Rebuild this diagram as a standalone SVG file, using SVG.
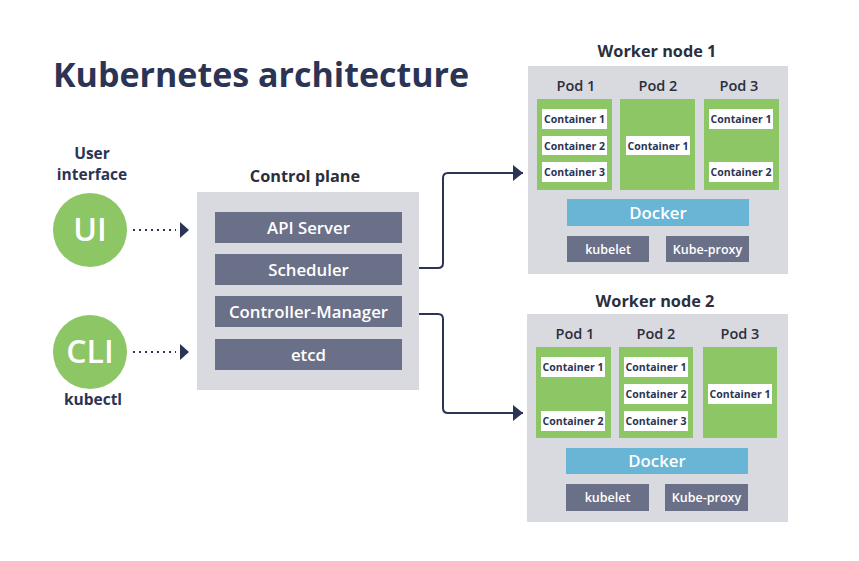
<svg xmlns="http://www.w3.org/2000/svg" width="859" height="561" viewBox="0 0 859 561">
<defs>
<style>
text{font-family:"Open Sans","DejaVu Sans",sans-serif;text-anchor:middle;}
.title{font-size:34px;font-weight:700;fill:#2b3454;text-anchor:start;}
.hd{font-size:16.3px;font-weight:700;fill:#2b2f3c;}
.lbl{font-size:15.5px;font-weight:700;fill:#2b3454;}
.pod{font-size:14.5px;font-weight:600;fill:#2b2f3c;}
.panel{fill:#d9dadf;}
.dark{fill:#6b7089;}
.dtx{font-size:16.8px;font-weight:600;fill:#ffffff;}
.stx{font-size:12.5px;font-weight:600;fill:#ffffff;}
.green{fill:#8cc665;}
.cont{fill:#ffffff;}
.ctx{font-size:10.5px;font-weight:700;fill:#2b3454;}
.docker{fill:#68b5d6;}
.circ{fill:#8cc665;}
.ctext{font-size:32px;font-weight:600;fill:#ffffff;}
.conn{fill:none;stroke:#2b3454;stroke-width:2;}
.dot{fill:none;stroke:#2b3454;stroke-width:2;stroke-dasharray:2 4;}
</style>
<marker id="ah" viewBox="0 0 10 16" refX="10" refY="8" markerWidth="10" markerHeight="16" markerUnits="userSpaceOnUse" orient="auto">
<path d="M0,0 L10,8 L0,16 Z" fill="#2b3454"/>
</marker>
</defs>
<rect width="859" height="561" fill="#ffffff"/>
<text class="title" x="53" y="87">Kubernetes architecture</text>

<g id="ui">
<text class="lbl" x="92" y="159">User</text>
<text class="lbl" x="92" y="180">interface</text>
<circle class="circ" cx="90" cy="230" r="37"/>
<text class="ctext" x="90" y="241">UI</text>
</g>
<g id="cli">
<circle class="circ" cx="90" cy="352" r="37"/>
<text class="ctext" x="90" y="363">CLI</text>
<text class="lbl" x="93" y="405">kubectl</text>
</g>

<g id="control-plane">
<text class="hd" x="305" y="182">Control plane</text>
<rect class="panel" x="197" y="192" width="222" height="198"/>
<rect class="dark" x="215" y="212" width="187" height="31"/>
<text class="dtx" x="308.5" y="234">API Server</text>
<rect class="dark" x="215" y="254" width="187" height="31"/>
<text class="dtx" x="308.5" y="276">Scheduler</text>
<rect class="dark" x="215" y="296" width="187" height="31"/>
<text class="dtx" x="308.5" y="318">Controller-Manager</text>
<rect class="dark" x="215" y="339" width="187" height="31"/>
<text class="dtx" x="308.5" y="361">etcd</text>
</g>

<g id="worker-node-1">
<text class="hd" x="657" y="57">Worker node 1</text>
<rect class="panel" x="528" y="66" width="260" height="208"/>
<text class="pod" x="576" y="91">Pod 1</text>
<text class="pod" x="658" y="91">Pod 2</text>
<text class="pod" x="739" y="91">Pod 3</text>
<rect class="green" x="537" y="99" width="75" height="91"/>
<rect class="green" x="620" y="99" width="75" height="91"/>
<rect class="green" x="704" y="99" width="75" height="91"/>
<rect class="cont" x="542" y="109" width="65" height="20"/>
<text class="ctx" x="574.5" y="123">Container 1</text>
<rect class="cont" x="542" y="136" width="65" height="19"/>
<text class="ctx" x="574.5" y="149.5">Container 2</text>
<rect class="cont" x="542" y="162" width="65" height="20"/>
<text class="ctx" x="574.5" y="176">Container 3</text>
<rect class="cont" x="626" y="136" width="64" height="19"/>
<text class="ctx" x="658" y="149.5">Container 1</text>
<rect class="cont" x="709" y="109" width="64" height="20"/>
<text class="ctx" x="741" y="123">Container 1</text>
<rect class="cont" x="709" y="162" width="64" height="20"/>
<text class="ctx" x="741" y="176">Container 2</text>
<rect class="docker" x="567" y="199" width="182" height="27"/>
<text class="dtx" x="658" y="218.5">Docker</text>
<rect class="dark" x="567" y="236" width="82" height="26"/>
<text class="stx" x="608" y="253.5">kubelet</text>
<rect class="dark" x="666" y="236" width="83" height="26"/>
<text class="stx" x="707.5" y="253.5">Kube-proxy</text>
</g>

<g id="worker-node-2">
<text class="hd" x="655" y="307">Worker node 2</text>
<rect class="panel" x="527" y="314" width="261" height="208"/>
<text class="pod" x="575" y="339">Pod 1</text>
<text class="pod" x="656" y="339">Pod 2</text>
<text class="pod" x="740" y="339">Pod 3</text>
<rect class="green" x="536" y="347" width="75" height="91"/>
<rect class="green" x="619" y="347" width="74" height="91"/>
<rect class="green" x="703" y="347" width="74" height="91"/>
<rect class="cont" x="541" y="357" width="64" height="20"/>
<text class="ctx" x="573" y="371">Container 1</text>
<rect class="cont" x="541" y="411" width="64" height="20"/>
<text class="ctx" x="573" y="425">Container 2</text>
<rect class="cont" x="624" y="357" width="64" height="20"/>
<text class="ctx" x="656" y="371">Container 1</text>
<rect class="cont" x="624" y="384" width="64" height="20"/>
<text class="ctx" x="656" y="398">Container 2</text>
<rect class="cont" x="624" y="411" width="64" height="20"/>
<text class="ctx" x="656" y="425">Container 3</text>
<rect class="cont" x="708" y="384" width="64" height="20"/>
<text class="ctx" x="740" y="398">Container 1</text>
<rect class="docker" x="566" y="448" width="182" height="26"/>
<text class="dtx" x="657" y="467">Docker</text>
<rect class="dark" x="566" y="484" width="83" height="27"/>
<text class="stx" x="607.5" y="502">kubelet</text>
<rect class="dark" x="665" y="484" width="83" height="27"/>
<text class="stx" x="706.5" y="502">Kube-proxy</text>
</g>

<g id="connectors">
<path class="dot" d="M133,230 L176,230"/>
<path class="dot" d="M133,352 L176,352"/>
<path d="M180,222 L189,230 L180,238 Z" fill="#2b3454"/>
<path d="M180,344 L189,352 L180,360 Z" fill="#2b3454"/>
<path class="conn" d="M419,268 L438,268 Q443,268 443,263 L443,178 Q443,173 448,173 L523,173" marker-end="url(#ah)"/>
<path class="conn" d="M419,314 L438,314 Q443,314 443,319 L443,408 Q443,413 448,413 L523,413" marker-end="url(#ah)"/>
</g>
</svg>
